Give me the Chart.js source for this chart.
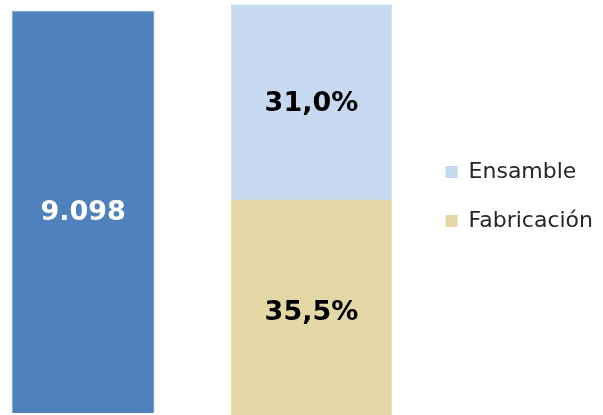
<!DOCTYPE html>
<html>
<head>
<meta charset="utf-8">
<script src="https://cdn.jsdelivr.net/npm/chart.js@4/dist/chart.umd.min.js"></script>
<style>
  html, body { margin: 0; padding: 0; background: #ffffff; }
  #wrap { width: 603px; height: 415px; position: relative; }
</style>
</head>
<body>
<div id="wrap"><canvas id="c"></canvas></div>
<script>
// ---- data ----
const categories = ['Total', 'Etapa'];
const totalValues = [9098, null];
const seriesNames = ['Ensamble', 'Fabricación'];
const ensambleValues = [null, 31.0];
const fabricacionValues = [null, 35.5];

const fmtTotal = v => Math.round(v).toString().replace(/\B(?=(\d{3})+(?!\d))/g, '.');
const fmtPct = v => v.toFixed(1).replace('.', ',') + '%';

const toPoints = arr => arr.map((v, i) => ({ x: i + 1, y: v }));

const labelPlugin = {
  id: 'barLabels',
  afterDatasetsDraw(chart) {
    const ctx = chart.ctx;
    chart.data.datasets.forEach((ds, di) => {
      const meta = chart.getDatasetMeta(di);
      meta.data.forEach((el, i) => {
        const raw = ds.data[i];
        if (!raw || raw.y === null || raw.y === undefined) return;
        const c = el.getCenterPoint();
        ctx.save();
        ctx.font = 'bold 27px "DejaVu Sans"';
        ctx.fillStyle = ds.labelColor;
        ctx.textAlign = 'center';
        ctx.textBaseline = 'middle';
        ctx.fillText(ds.fmt(raw.y), c.x, c.y + 1);
        ctx.restore();
      });
    });
  }
};

new Chart(document.getElementById('c'), {
  type: 'bar',
  data: {
    datasets: [
      {
        label: 'Total',
        data: toPoints(totalValues),
        yAxisID: 'y',
        backgroundColor: '#4F81BD',
        borderColor: '#9BB6DA',
        borderWidth: 1,
        barThickness: 142,
        grouped: false,
        base: 0,
        clip: false,
        labelColor: '#ffffff',
        fmt: fmtTotal
      },
      {
        label: seriesNames[1],
        data: toPoints(fabricacionValues),
        yAxisID: 'y2',
        backgroundColor: '#E3D7A5',
        borderWidth: 0,
        barThickness: 160,
        grouped: false,
        base: 0,
        clip: false,
        labelColor: '#000000',
        fmt: fmtPct
      },
      {
        label: seriesNames[0],
        data: toPoints(ensambleValues),
        yAxisID: 'y2',
        backgroundColor: '#C6D9F0',
        borderWidth: 0,
        barThickness: 160,
        grouped: false,
        clip: false,
        labelColor: '#000000',
        fmt: fmtPct
      }
    ]
  },
  options: {
    responsive: true,
    maintainAspectRatio: false,
    animation: false,
    devicePixelRatio: 1,
    layout: { padding: { left: 0, right: 0, top: 0, bottom: 22 } },
    scales: {
      x: { type: 'linear', display: false, offset: false, min: 0.636, max: 2.4693 },
      y: { type: 'linear', display: false, min: 453, max: 9347 },
      y2: { type: 'linear', display: false, stacked: true, min: 4.82, max: 67.3 }
    },
    plugins: {
      tooltip: { enabled: false },
      legend: {
        position: 'right',
        align: 'center',
        reverse: true,
        maxWidth: 185,
        labels: {
          filter: item => item.text !== 'Total',
          boxWidth: 12,
          boxHeight: 12,
          padding: 27,
          color: '#262626',
          font: { family: '"DejaVu Sans"', size: 22 }
        }
      }
    }
  },
  plugins: [labelPlugin]
});
</script>
</body>
</html>
